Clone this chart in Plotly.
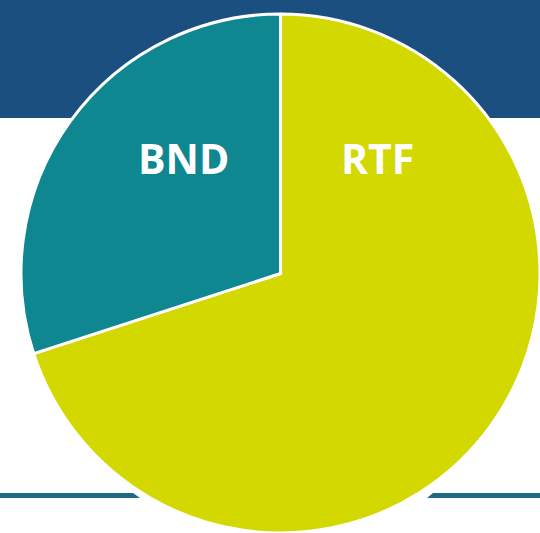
import plotly.graph_objects as go

labels = ["RTF", "BND"]
values = [70, 30]
colors = ["#d3d800", "#0f8790"]

W, H = 540, 533


def px(x):
    return x / W


def py(y):
    return 1 - y / H


fig = go.Figure(go.Pie(
    labels=labels,
    values=values,
    sort=False,
    direction="clockwise",
    rotation=0,
    marker=dict(colors=colors, line=dict(color="white", width=3)),
    textinfo="none",
    hoverinfo="label+percent",
    showlegend=False,
    domain=dict(x=[px(21), 1.0], y=[0.0, py(14)]),
))

# background band + bottom rule
shapes = [
    dict(type="rect", xref="paper", yref="paper", x0=0, x1=1, y0=py(118), y1=1,
         fillcolor="#1b4f80", line=dict(width=0), layer="below"),
    dict(type="path", xref="paper", yref="paper",
         path=f"M 0 {py(493)} L {px(133)} {py(493)} L {px(140)} {py(498)} L 0 {py(498)} Z",
         fillcolor="#1e6a84", line=dict(width=0), layer="below"),
    dict(type="path", xref="paper", yref="paper",
         path=f"M {px(433)} {py(493)} L 1 {py(493)} L 1 {py(498)} L {px(427)} {py(498)} Z",
         fillcolor="#1e6a84", line=dict(width=0), layer="below"),
]

lab_font = dict(family="Open Sans", size=41, color="white", weight="bold")
annotations = [
    dict(text=labels[1], x=px(183), y=py(158), xref="paper", yref="paper",
         xanchor="center", yanchor="middle", showarrow=False, font=lab_font),
    dict(text=labels[0], x=px(377), y=py(158), xref="paper", yref="paper",
         xanchor="center", yanchor="middle", showarrow=False, font=lab_font),
]

fig.update_layout(
    width=W, height=H,
    margin=dict(l=0, r=0, t=0, b=0),
    paper_bgcolor="white",
    plot_bgcolor="white",
    shapes=shapes,
    annotations=annotations,
)

# drop the default page margin so the figure sits flush in the window
fig.write_html("out.html", config={"displayModeBar": False},
               post_script="document.body.style.margin='0';document.body.style.overflow='hidden';")
